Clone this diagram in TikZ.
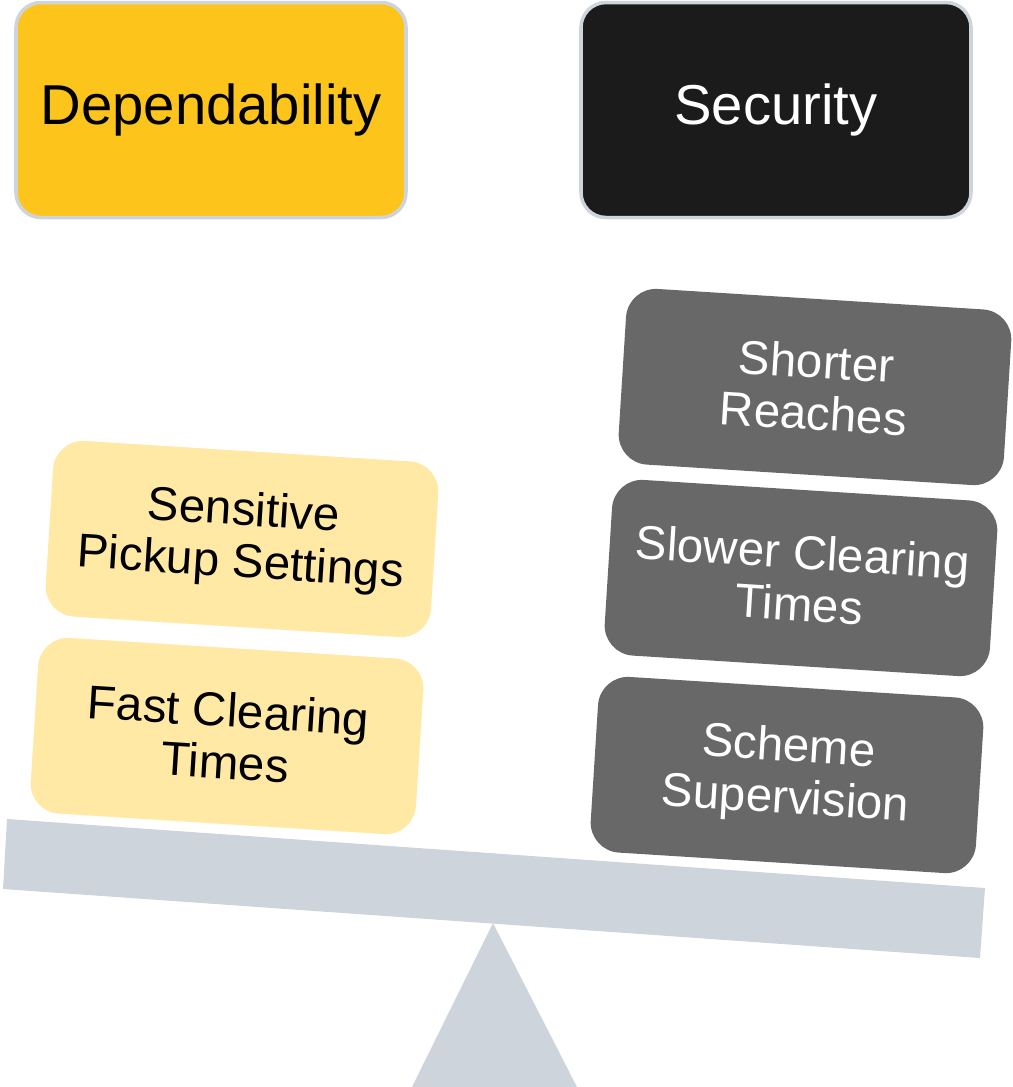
\documentclass[tikz,border=0pt]{standalone}
\usepackage{fontspec}
\setmainfont{Liberation Sans}
\definecolor{depyellow}{HTML}{FDC51C}
\definecolor{lightyellow}{HTML}{FFE9A4}
\definecolor{secblack}{HTML}{1B1B1B}
\definecolor{weightgray}{HTML}{686868}
\definecolor{beamgray}{HTML}{CED4DB}
\begin{document}
\begin{tikzpicture}[
    title/.style={draw=beamgray, line width=1pt, rounded corners=0.25cm,
      minimum width=3.9cm, minimum height=2.15cm, inner sep=0pt,
      font=\fontsize{16}{17.6}\selectfont},
    weight/.style={rounded corners=0.3cm, minimum width=3.86cm,
      minimum height=1.76cm, inner sep=0pt, align=center,
      font=\fontsize{13.5}{14.8}\selectfont}
  ]
    \useasboundingbox (0,0) rectangle (10.13,-10.87);
    % the two sides
    \node (dep) at (2.11,-1.10) [title,fill=depyellow] {Dependability};
    \node (sec) at (7.76,-1.10) [title,fill=secblack,text=white] {Security};
    % fulcrum and beam
    \fill[beamgray] (4.93,-9.23) -- (5.77,-10.87) -- (4.12,-10.87) -- cycle;
    \fill[beamgray] (0.07,-8.19) -- (9.85,-8.88) -- (9.80,-9.58)
      -- (0.03,-8.89) -- cycle;
    % left pan
    \node (fast) at (2.27,-7.36) [weight,rotate=-3.6,fill=lightyellow]
      {Fast Clearing\\Times};
    \node (sens) at (2.42,-5.39) [weight,rotate=-3.6,fill=lightyellow]
      {Sensitive\\Pickup Settings};
    % right pan
    \node (scheme) at (7.87,-7.75) [weight,rotate=-3.6,fill=weightgray,text=white]
      {Scheme\\Supervision};
    \node (slower) at (8.01,-5.78) [weight,rotate=-3.6,fill=weightgray,text=white]
      {Slower Clearing\\Times};
    \node (shorter) at (8.15,-3.87) [weight,rotate=-3.6,fill=weightgray,text=white]
      {Shorter\\Reaches};
  \end{tikzpicture}
\end{document}
